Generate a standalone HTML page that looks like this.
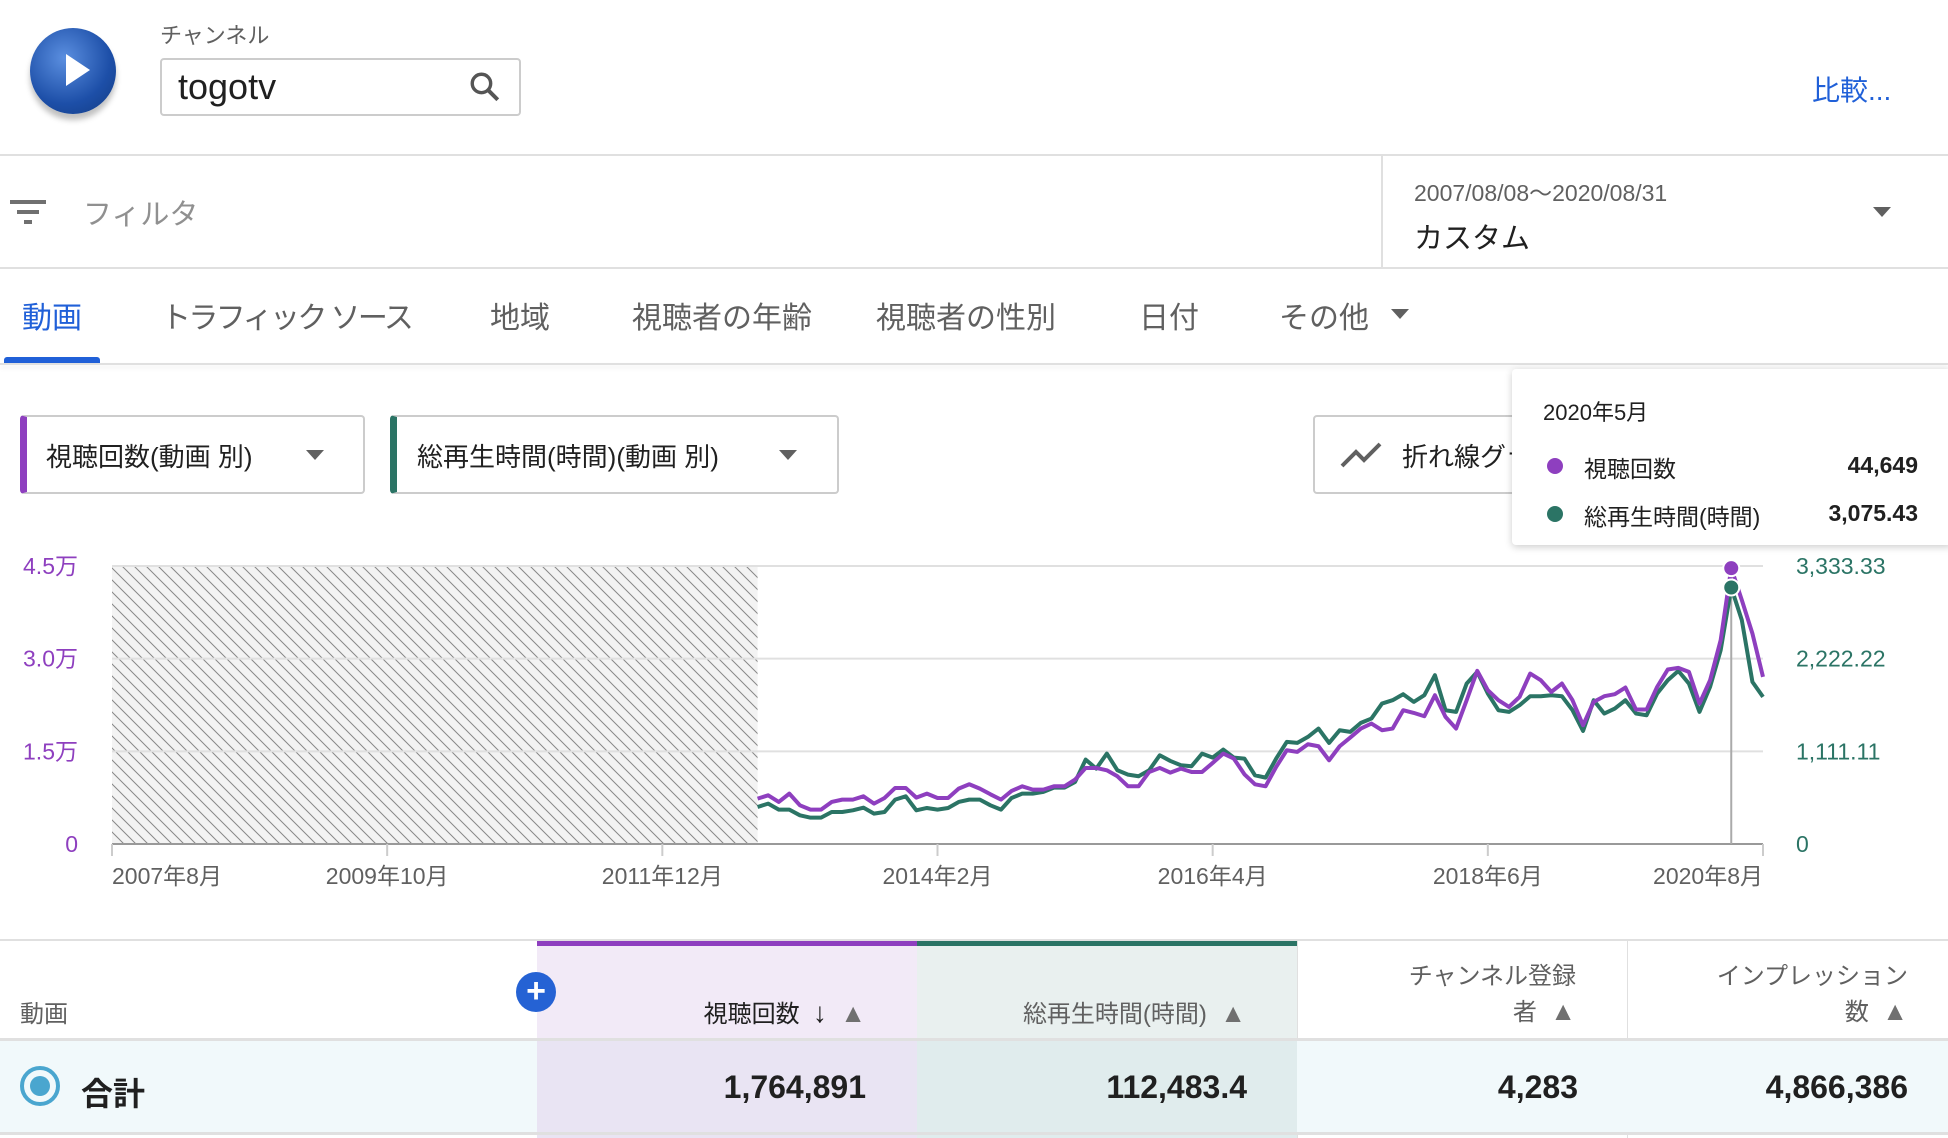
<!DOCTYPE html>
<html><head><meta charset="utf-8">
<style>
body{margin:0;width:1948px;height:1138px;overflow:hidden;background:#fff;font-family:"Liberation Sans","Noto Sans CJK JP",sans-serif;position:relative;}
.a{position:absolute;white-space:nowrap;}
.tab{position:absolute;top:293px;font-size:30px;color:#606060;}
.th{position:absolute;font-size:24px;color:#606060;}
.td{position:absolute;font-size:32px;font-weight:bold;color:#202020;top:1069px;}
</style></head><body>
<div class="a" style="left:30px;top:28px;width:86px;height:86px;border-radius:50%;background:radial-gradient(circle at 40% 35%,#5b8fe0,#1d4fa8 60%,#123a80);box-shadow:0 6px 6px rgba(0,0,0,.25);"></div>
<div class="a" style="left:66px;top:54px;width:0;height:0;border-left:24px solid #fff;border-top:16px solid transparent;border-bottom:16px solid transparent;"></div>
<div class="a" style="left:160px;top:18px;font-size:22px;color:#606060;">チャンネル</div>
<div class="a" style="left:160px;top:58px;width:361px;height:58px;border:2px solid #ccc;border-radius:4px;box-sizing:border-box;"></div>
<div class="a" style="left:178px;top:66px;font-size:36px;color:#202020;font-weight:500;">togotv</div>
<svg class="a" style="left:468px;top:70px" width="34" height="34" viewBox="0 0 24 24"><circle cx="9.5" cy="9.5" r="6.5" fill="none" stroke="#555" stroke-width="2.4"/><line x1="14" y1="14" x2="21" y2="21" stroke="#555" stroke-width="2.8"/></svg>
<div class="a" style="left:1812px;top:69px;font-size:28px;color:#2060d8;">比較...</div>
<div class="a" style="left:0;top:154px;width:1948px;height:2px;background:#e0e0e0;"></div>
<svg class="a" style="left:10px;top:198px" width="36" height="28"><rect x="0" y="2" width="36" height="4" fill="#707070"/><rect x="7" y="12" width="22" height="4" fill="#707070"/><rect x="14" y="22" width="8" height="4" fill="#707070"/></svg>
<div class="a" style="left:83px;top:191px;font-size:29px;color:#909090;">フィルタ</div>
<div class="a" style="left:1381px;top:155px;width:2px;height:113px;background:#e0e0e0;"></div>
<div class="a" style="left:1414px;top:174px;font-size:23px;color:#606060;">2007/08/08～2020/08/31</div>
<div class="a" style="left:1414px;top:215px;font-size:29px;color:#202020;">カスタム</div>
<div class="a" style="left:1873px;top:207px;border-left:9px solid transparent;border-right:9px solid transparent;border-top:10px solid #606060;"></div>
<div class="a" style="left:0;top:267px;width:1948px;height:2px;background:#e0e0e0;"></div>
<div class="tab" style="left:22px;color:#2060d8;">動画</div>
<div class="tab" style="left:161px;letter-spacing:-2.6px;">トラフィック ソース</div>
<div class="tab" style="left:490px;">地域</div>
<div class="tab" style="left:632px;">視聴者の年齢</div>
<div class="tab" style="left:876px;">視聴者の性別</div>
<div class="tab" style="left:1139px;">日付</div>
<div class="tab" style="left:1279px;">その他</div>
<div class="a" style="left:1391px;top:309px;border-left:9px solid transparent;border-right:9px solid transparent;border-top:10px solid #606060;"></div>
<div class="a" style="left:4px;top:357px;width:96px;height:6px;background:#2060d8;border-radius:3px 3px 0 0;"></div>
<div class="a" style="left:0;top:363px;width:1948px;height:2px;background:#e0e0e0;box-shadow:0 3px 5px rgba(0,0,0,.08);"></div>
<div class="a" style="left:20px;top:415px;width:345px;height:79px;border:2px solid #ccc;border-left:7px solid #8e3fbf;border-radius:4px;box-sizing:border-box;"></div>
<div class="a" style="left:46px;top:437px;font-size:26px;color:#202020;">視聴回数(動画 別)</div>
<div class="a" style="left:306px;top:450px;border-left:9px solid transparent;border-right:9px solid transparent;border-top:10px solid #606060;"></div>
<div class="a" style="left:390px;top:415px;width:449px;height:79px;border:2px solid #ccc;border-left:7px solid #2b7465;border-radius:4px;box-sizing:border-box;"></div>
<div class="a" style="left:417px;top:437px;font-size:26px;color:#202020;">総再生時間(時間)(動画 別)</div>
<div class="a" style="left:779px;top:450px;border-left:9px solid transparent;border-right:9px solid transparent;border-top:10px solid #606060;"></div>
<div class="a" style="left:1313px;top:415px;width:300px;height:79px;border:2px solid #ccc;border-radius:4px;box-sizing:border-box;"></div>
<svg class="a" style="left:1340px;top:438px" width="44" height="32"><polyline points="2,28 16,14 24,22 40,6" fill="none" stroke="#606060" stroke-width="4"/></svg>
<div class="a" style="left:1402px;top:437px;font-size:26px;color:#202020;">折れ線グラフ</div>

<svg class="a" id="chart" style="left:0;top:0" width="1948" height="940"></svg>

<div class="a" style="left:1512px;top:369px;width:440px;height:176px;background:#fff;box-shadow:0 2px 8px rgba(0,0,0,.2);border-radius:4px;"></div>
<div class="a" style="left:1543px;top:395px;font-size:22px;color:#202020;">2020年5月</div>
<div class="a" style="left:1547px;top:458px;width:16px;height:16px;border-radius:50%;background:#8e3fbf;"></div>
<div class="a" style="left:1584px;top:450px;font-size:23px;color:#202020;">視聴回数</div>
<div class="a" style="right:30px;top:452px;font-size:23px;color:#202020;font-weight:bold;">44,649</div>
<div class="a" style="left:1547px;top:506px;width:16px;height:16px;border-radius:50%;background:#2b7465;"></div>
<div class="a" style="left:1584px;top:498px;font-size:23px;color:#202020;">総再生時間(時間)</div>
<div class="a" style="right:30px;top:500px;font-size:23px;color:#202020;font-weight:bold;">3,075.43</div>

<div class="a" style="left:0;top:939px;width:1948px;height:2px;background:#e0e0e0;"></div>
<div class="a" style="left:537px;top:941px;width:380px;height:98px;background:#f2eaf7;border-top:5px solid #8e3fbf;box-sizing:border-box;"></div>
<div class="a" style="left:917px;top:941px;width:380px;height:98px;background:#e9f0ef;border-top:5px solid #2b7465;box-sizing:border-box;"></div>
<div class="a" style="left:1297px;top:941px;width:1px;height:197px;background:#e0e0e0;"></div>
<div class="a" style="left:1627px;top:941px;width:1px;height:197px;background:#e0e0e0;"></div>
<div class="a" style="left:0;top:1041px;width:1948px;height:92px;background:#f1f9fb;"></div>
<div class="a" style="left:537px;top:1041px;width:380px;height:97px;background:#e9e4f3;"></div>
<div class="a" style="left:917px;top:1041px;width:380px;height:97px;background:#e0eced;"></div>
<div class="a" style="left:0;top:1038px;width:1948px;height:3px;background:#e0e0e0;"></div>
<div class="a" style="left:0;top:1132px;width:1948px;height:3px;background:#e0e0e0;"></div>
<div class="th" style="left:20px;top:994px;">動画</div>
<div class="a" style="left:516px;top:972px;width:40px;height:40px;border-radius:50%;background:#2562d4;color:#fff;font-size:34px;line-height:38px;text-align:center;font-weight:bold;">+</div>
<div class="th" style="right:1082px;top:994px;color:#202020;">視聴回数 &nbsp;<span style="font-size:28px">↓</span> &nbsp;<span style="color:#707070;font-size:26px">▲</span></div>
<div class="th" style="right:702px;top:994px;">総再生時間(時間) &nbsp;<span style="color:#707070;font-size:26px">▲</span></div>
<div class="th" style="right:372px;top:960px;text-align:right;line-height:34px;">チャンネル登録<br>者 &nbsp;<span style="color:#707070;font-size:26px">▲</span></div>
<div class="th" style="right:40px;top:960px;text-align:right;line-height:34px;">インプレッション<br>数 &nbsp;<span style="color:#707070;font-size:26px">▲</span></div>
<div class="a" style="left:20px;top:1066px;width:40px;height:40px;border-radius:50%;border:4px solid #4aa6cf;box-sizing:border-box;"></div>
<div class="a" style="left:30px;top:1076px;width:20px;height:20px;border-radius:50%;background:#4aa6cf;"></div>
<div class="td" style="left:81px;">合計</div>
<div class="td" style="right:1082px;">1,764,891</div>
<div class="td" style="right:701px;">112,483.4</div>
<div class="td" style="right:370px;">4,283</div>
<div class="td" style="right:40px;">4,866,386</div>

<script>
const startMonthIndex = 61; // Sep 2012 (months since Aug 2007)
const views = [7344,7884,6804,8154,6264,5562,5562,6804,7182,7182,7722,6534,7452,9072,9072,7506,8154,7452,7452,8964,9666,8964,8046,7182,8586,9342,8802,8802,9342,9342,10422,12312,12312,11934,10962,9342,9342,11664,12312,11556,12204,11664,11664,13122,14634,13824,11286,9666,9342,12474,15174,14904,16146,15822,13554,15822,17226,18684,19494,18414,18684,21654,21222,20682,24084,20574,18684,23274,28026,24894,23274,22194,23814,27594,26514,24624,25974,23274,19224,23004,23922,24246,25326,21762,21762,25434,28242,28512,27864,22734,26514,32994,44649,39474,34074,27054];
const watchHours = [444,484,412,412,344,316,316,384,384,404,436,364,384,532,572,404,432,412,432,504,532,532,464,412,552,604,604,624,676,676,744,1012,904,1084,884,832,812,884,1064,996,944,932,1084,1036,1132,1036,1024,824,796,1024,1224,1212,1284,1384,1212,1364,1344,1452,1504,1684,1724,1796,1704,1784,2024,1604,1584,1924,2064,1804,1604,1584,1664,1772,1772,1784,1772,1604,1356,1724,1564,1624,1724,1564,1544,1804,1964,2076,1924,1584,1884,2324,3075.43,2684,1944,1764];
const leftTicks = ["0","1.5万","3.0万","4.5万"];
const leftTickValues = [0,15000,30000,45000];
const rightTicks = ["0","1,111.11","2,222.22","3,333.33"];
const xLabels = ["2007年8月","2009年10月","2011年12月","2014年2月","2016年4月","2018年6月","2020年8月"];
const xLabelMonths = [0,26,52,78,104,130,156];
const hoverMonth = 153;

const NS="http://www.w3.org/2000/svg";
const svg=document.getElementById('chart');
const X0=112,X1=1763,Y0=844,Y1=566,MAXM=156,VMAX=45000,HMAX=3333.33;
const xs=m=>X0+m*(X1-X0)/MAXM;
const yv=v=>Y0-v/VMAX*(Y0-Y1);
const yh=h=>Y0-h/HMAX*(Y0-Y1);
function mk(t,a){const e=document.createElementNS(NS,t);for(const k in a)e.setAttribute(k,a[k]);svg.appendChild(e);return e;}
const defs=mk('defs',{});
defs.innerHTML='<pattern id="hatch" width="12" height="12" patternUnits="userSpaceOnUse"><rect width="12" height="12" fill="#f3f3f3"/><path d="M0,0 L12,12 M-6,6 L6,18 M6,-6 L18,6" stroke="#888" stroke-width="1"/></pattern>';
const hatch=mk('rect',{x:X0,y:Y1,width:xs(startMonthIndex)-X0,height:Y0-Y1,fill:'url(#hatch)'});


leftTickValues.forEach((v,i)=>{
  const g=mk('line',{x1:X0,x2:X1,y1:yv(v),y2:yv(v),stroke:i===0?'#999':'#e0e0e0','stroke-width':2});
  
  
  const t=mk('text',{x:78,y:yv(v)+8,'text-anchor':'end','font-size':23,fill:'#8e3fbf'});
  t.textContent=leftTicks[i];
  
  
  const r=mk('text',{x:1796,y:yv(v)+8,'font-size':23,fill:'#2b7465'});
  r.textContent=rightTicks[i];
  
  
});
xLabelMonths.forEach((m,i)=>{
  const tk=mk('line',{x1:xs(m),x2:xs(m),y1:Y0,y2:Y0+12,stroke:'#ccc','stroke-width':2});
  
  
  const anchor=i===0?'start':(i===xLabelMonths.length-1?'end':'middle');
  const t=mk('text',{x:xs(m),y:884,'text-anchor':anchor,'font-size':23,fill:'#606060'});
  t.textContent=xLabels[i];
  
  
});
const hl=mk('line',{x1:xs(hoverMonth),x2:xs(hoverMonth),y1:Y1,y2:Y0,stroke:'#aaa','stroke-width':2});


const gp=mk('polyline',{points:watchHours.map((h,i)=>xs(startMonthIndex+i)+','+yh(h)).join(' '),fill:'none',stroke:'#2b7465','stroke-width':4,'stroke-linejoin':'round'});


const pp=mk('polyline',{points:views.map((v,i)=>xs(startMonthIndex+i)+','+yv(v)).join(' '),fill:'none',stroke:'#8e3fbf','stroke-width':4,'stroke-linejoin':'round'});


const hi=hoverMonth-startMonthIndex;
const d1=mk('circle',{cx:xs(hoverMonth),cy:yv(views[hi]),r:8,fill:'#8e3fbf',stroke:'#fff','stroke-width':2});


const d2=mk('circle',{cx:xs(hoverMonth),cy:yh(watchHours[hi]),r:8,fill:'#2b7465',stroke:'#fff','stroke-width':2});


</script>
</body></html>
